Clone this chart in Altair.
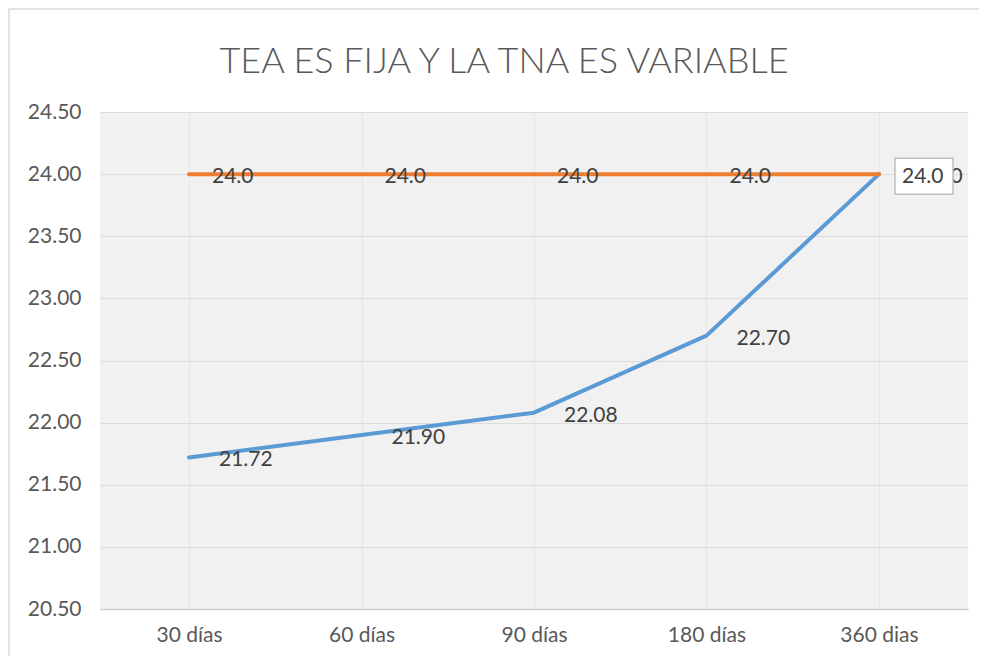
import altair as alt
import pandas as pd

categories = ["30 días", "60 días", "90 días", "180 días", "360 dias"]
tna_values = [21.72, 21.90, 22.08, 22.70, 24.00]
tea_values = [24.0, 24.0, 24.0, 24.0, 24.0]
y_ticks = [20.5, 21.0, 21.5, 22.0, 22.5, 23.0, 23.5, 24.0, 24.5]
title_text = "TEA ES FIJA Y LA TNA ES VARIABLE"

rows = []
for c, v in zip(categories, tna_values):
    rows.append({"plazo": c, "valor": v, "serie": "TNA"})
for c, v in zip(categories, tea_values):
    rows.append({"plazo": c, "valor": v, "serie": "TEA"})
df = pd.DataFrame(rows)

FONT = "Lato"
TXT = "#404040"
AX = "#595959"
FS = 21

x_enc = alt.X(
    "plazo:N",
    sort=categories,
    scale=alt.Scale(type="point", padding=0.516),
    axis=alt.Axis(
        title=None, labelAngle=0, ticks=False, labelPadding=15,
        labelFontSize=FS, labelColor=AX, labelFont=FONT,
        domainColor="#d0d0d0", domainWidth=1.5,
        grid=True, gridColor="#e6e6e6", gridWidth=1,
    ),
)
y_enc = alt.Y(
    "valor:Q",
    scale=alt.Scale(domain=[20.5, 24.5], nice=False, zero=False),
    axis=alt.Axis(
        title=None, values=y_ticks, format=".2f", ticks=False, domain=False,
        labelPadding=19, labelFontSize=FS, labelColor=AX, labelFont=FONT,
        gridColor="#dcdcdc", gridWidth=1,
    ),
)

base = alt.Chart(df).encode(x=x_enc, y=y_enc)

one = pd.DataFrame({"k": [0]})

frame = alt.Chart(one).mark_rect(
    fill=None, stroke="#d9d9d9", strokeWidth=1.5
).encode(
    x=alt.value(-91), x2=alt.value(1000), y=alt.value(-103), y2=alt.value(700)
)

title = alt.Chart(one).mark_text(
    text=title_text, fontSize=36, font=FONT, fontWeight=300, color=AX,
    align="center", baseline="alphabetic"
).encode(x=alt.value(404), y=alt.value(-39))

line_tna = base.transform_filter(alt.datum.serie == "TNA").mark_line(
    color="#5B9BD5", strokeWidth=4, strokeCap="round", strokeJoin="round"
)
line_tea = base.transform_filter(alt.datum.serie == "TEA").mark_line(
    color="#ED7D31", strokeWidth=4, strokeCap="round", strokeJoin="round"
)

lab_tna = base.transform_filter(alt.datum.serie == "TNA").mark_text(
    align="left", baseline="middle", dx=30, dy=3, fontSize=FS, font=FONT, color=TXT
).encode(text=alt.Text("valor:Q", format=".2f"))

box = base.transform_filter(
    (alt.datum.serie == "TEA") & (alt.datum.plazo == categories[-1])
).mark_rect(
    width=58, height=36, xOffset=45, yOffset=2,
    fill="white", stroke="#bfbfbf", strokeWidth=1.5
)

lab_tea = base.transform_filter(alt.datum.serie == "TEA").mark_text(
    align="left", baseline="middle", dx=23, dy=3, fontSize=FS, font=FONT, color=TXT
).encode(text=alt.Text("valor:Q", format=".1f"))

chart = alt.layer(frame, title, line_tna, line_tea, lab_tna, box, lab_tea).properties(
    width=868,
    height=497,
    padding={"left": 92, "top": 104, "right": 11, "bottom": 47},
    autosize=alt.AutoSizeParams(type="none"),
).configure_view(fill="#f1f1f1", stroke=None)

chart.save("out.html", embed_options={"renderer": "svg", "actions": False})
